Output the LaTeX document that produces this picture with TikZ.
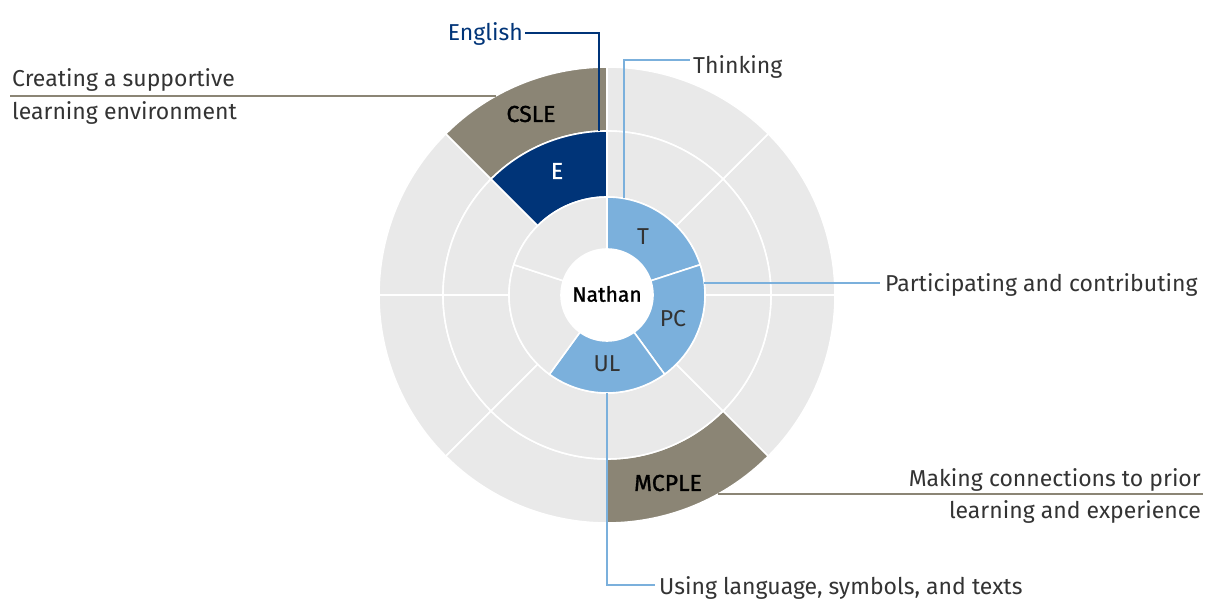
\documentclass[tikz,border=0pt]{standalone}
\usepackage{fontspec}
\setmainfont{Fira Sans}
\newfontfamily\medfont{Fira Sans}[FakeBold=1.3]
\usetikzlibrary{calc}
\definecolor{ringgrey}{HTML}{E9E9E9}
\definecolor{lblue}{HTML}{7BB0DC}
\definecolor{navy}{HTML}{003478}
\definecolor{taupe}{HTML}{8B8575}
\definecolor{txt}{HTML}{333333}
\tikzset{
  seg/.style={draw=white, line width=1.6pt},
  lbl/.style={font=\fontsize{23}{27}\selectfont, text=txt, inner sep=0pt},
  seglbl/.style={font=\fontsize{23}{27}\selectfont, text=txt, inner sep=0pt},
  segmed/.style={font=\medfont\fontsize{23}{27}\selectfont, text=black, inner sep=0pt},
  bline/.style={draw=lblue, line width=1.3pt},
  tline/.style={draw=taupe, line width=2pt},
  nline/.style={draw=navy, line width=1.4pt},
}
\newcommand\ringsector[5]{%
  \filldraw[seg, fill=#1] ($(C)+(#4:#3)$) arc[start angle=#4, end angle=#5, radius=#3] -- ($(C)+(#5:#2)$) arc[start angle=#5, end angle=#4, radius=#2] -- cycle;}
\begin{document}
\begin{tikzpicture}[x=1pt,y=1pt]
\useasboundingbox (0,0) rectangle (1205,599);
\coordinate (C) at (607,304);
% outer ring (8 sectors)
\foreach \a in {0,45,135,180,225,315}{\ringsector{ringgrey}{164pt}{228pt}{\a}{\a+45}}
\ringsector{taupe}{164pt}{228pt}{90}{135}
\ringsector{taupe}{164pt}{228pt}{270}{315}
% middle ring
\foreach \a in {0,45,135,180,225,270,315}{\ringsector{ringgrey}{98pt}{164pt}{\a}{\a+45}}
\ringsector{navy}{98pt}{164pt}{90}{135}
% inner ring (5 sectors)
\ringsector{lblue}{46pt}{98pt}{18}{90}
\ringsector{lblue}{46pt}{98pt}{-54}{18}
\ringsector{lblue}{46pt}{98pt}{-126}{-54}
\ringsector{ringgrey}{46pt}{98pt}{162}{234}
\ringsector{ringgrey}{46pt}{98pt}{90}{162}
\fill[white] (C) circle[radius=46pt];
% segment labels
\node[segmed, font=\medfont\fontsize{21}{25}\selectfont] (nathan) at (607,305) {Nathan};
\node[segmed] (csle) at (531,485) {CSLE};
\node[segmed, text=white] (e) at (557,428) {E};
\node[seglbl] (t) at (643,362) {T};
\node[seglbl] (pc) at (673,280) {PC};
\node[seglbl] (ul) at (607,235) {UL};
\node[segmed] (mcple) at (668,116) {MCPLE};
% connector end points on the rings
\coordinate (eTop) at (599,467.8);
\coordinate (tTop) at (624,400.5);
\coordinate (pcEdge) at (704.3,316);
\coordinate (ulBot) at (607,206);
\coordinate (csEdge) at (495.7,503);
\coordinate (csEnd) at (10,503);
\coordinate (mcEdge) at (718,105);
\coordinate (mcEnd) at (1203,105);
% outside labels
\node[lbl, text=navy, anchor=east] (english) at (523,565) {English};
\node[lbl, anchor=west] (thinking) at (693,532) {Thinking};
\node[lbl, anchor=west] (partic) at (885,314) {Participating and contributing};
\node[lbl, anchor=west] (using) at (659,11) {Using language, symbols, and texts};
\node[lbl, anchor=west] (cs1) at (12,519) {Creating a supportive};
\node[lbl, anchor=west] (cs2) at (12,486) {learning environment};
\node[lbl, anchor=east] (mc1) at (1201,119) {Making connections to prior};
\node[lbl, anchor=east] (mc2) at (1201,87) {learning and experience};
% connectors
\draw[nline] ([xshift=2pt,yshift=1pt]english.east) -| (eTop);
\draw[bline] (tTop) |- ([xshift=-3pt,yshift=7pt]thinking.west);
\draw[bline] (pcEdge) -- ([xshift=-5pt,yshift=2pt]partic.west);
\draw[bline] (ulBot) |- ([xshift=-4pt,yshift=3pt]using.west);
\draw[tline] (csEnd) -- (csEdge);
\draw[tline] (mcEdge) -- (mcEnd);
\end{tikzpicture}
\end{document}
